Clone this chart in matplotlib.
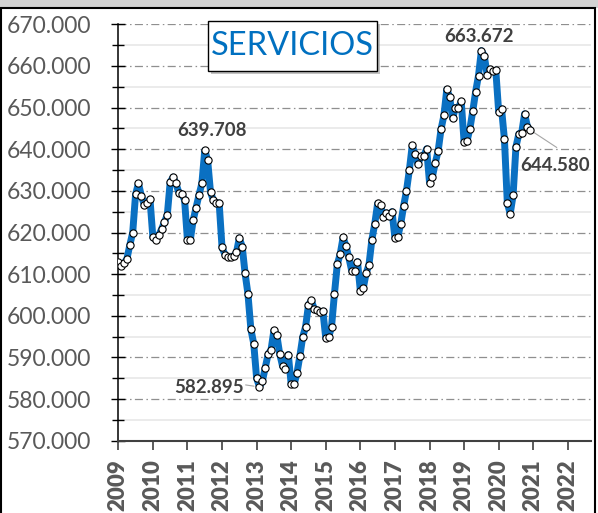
import matplotlib.pyplot as plt
from matplotlib.patches import Rectangle
import numpy as np

plt.rcParams['font.family'] = ['Lato', 'DejaVu Sans']
plt.rcParams['lines.scale_dashes'] = False

# afiliados en servicios (miles), mensual desde enero 2009
start_year = 2009
servicios = [
    612.8, 612.0, 612.6, 613.7, 617.0, 620.0, 629.2, 631.8, 628.8, 626.6, 627.2, 628.0,
    618.8, 618.3, 619.3, 620.8, 622.5, 624.2, 632.1, 633.3, 631.8, 629.6, 629.3, 627.8,
    618.1, 618.3, 623.0, 626.0, 629.0, 631.8, 639.708, 637.4, 629.7, 627.7, 627.0, 627.1,
    616.4, 614.7, 614.2, 614.1, 614.3, 615.2, 618.7, 616.6, 610.2, 605.2, 596.8, 593.3,
    585.0, 582.895, 584.3, 587.5, 590.8, 591.8, 596.5, 595.4, 590.9, 587.9, 587.3, 590.7,
    583.5, 583.5, 586.2, 590.3, 594.9, 597.4, 602.6, 603.7, 601.6, 601.4, 600.9, 601.1,
    594.6, 594.8, 597.4, 605.2, 612.4, 614.8, 618.8, 616.8, 614.0, 610.8, 610.7, 613.0,
    606.0, 606.6, 610.2, 612.3, 618.3, 622.1, 627.0, 626.5, 623.8, 624.7, 623.9, 625.0,
    618.6, 619.0, 622.0, 626.3, 630.0, 635.0, 640.9, 638.8, 636.4, 638.3, 638.4, 640.1,
    632.0, 633.4, 636.7, 639.6, 644.8, 648.1, 654.4, 652.5, 647.4, 650.0, 649.9, 651.5,
    641.8, 641.9, 644.9, 649.1, 653.8, 657.7, 663.672, 662.5, 657.8, 659.2, 658.7, 659.0,
    649.0, 649.7, 642.4, 627.1, 624.5, 628.9, 640.6, 643.7, 644.0, 648.5, 645.4, 644.580,
]
years = list(range(2009, 2023))
year_labels = [str(y) for y in years]
y_ticks = list(range(570, 671, 10))
y_labels = [f"{v:.3f}" for v in y_ticks]
title = "SERVICIOS"
label_points = [30, 49, 126, 143]

W, H = 598, 513
blue = '#0a70c2'
gray_txt = '#595959'

x = start_year + np.arange(len(servicios)) / 12.0

fig = plt.figure(figsize=(W / 100, H / 100), dpi=100)
fig.patch.set_facecolor('white')

# chart frame like the spreadsheet chart area
fig.add_artist(Rectangle((0, 1 - 8 / H), 1, 8 / H, transform=fig.transFigure,
                         facecolor='#d2d2d2', edgecolor='none'))
fig.add_artist(Rectangle((1 / W, -0.05), 594 / W, 1 - 8 / H + 0.05, transform=fig.transFigure,
                         fill=False, edgecolor='black', lw=1.5))

ax = fig.add_axes([118.3 / W, 1 - 440.7 / H, (591 - 118.3) / W, (440.7 - 24.3) / H])
ax.set_facecolor('none')

ax.plot(x, servicios, color=blue, lw=5, solid_joinstyle='round', solid_capstyle='round', zorder=3)
ax.plot(x, servicios, ls='none', marker='o', ms=5.2, mfc='white', mec='black', mew=0.8, zorder=4)

ax.set_xlim(2009, 2022.67)
ax.set_ylim(570, 670)

ax.set_yticks(y_ticks)
ax.set_yticklabels(y_labels)
ax.set_yticks(np.arange(575, 670, 10), minor=True)
ax.set_xticks(years)
ax.set_xticklabels(year_labels, rotation=90, fontweight='heavy')

ax.tick_params(axis='y', which='major', direction='inout', length=10, width=1.0, color='black',
               labelsize=16.5, labelcolor=gray_txt, pad=14.5)
ax.tick_params(axis='y', which='minor', direction='inout', length=8.5, width=1.0, color='black')
ax.tick_params(axis='x', which='major', direction='out', length=6.5, width=1.2, color='#404040',
               labelsize=16, labelcolor=gray_txt, pad=7)

ax.grid(axis='y', which='major', color='#8f8f8f', lw=0.9, dashes=(5.8, 2.5, 1.1, 2.4), zorder=0)
ax.grid(axis='y', which='minor', color='#e8e8e8', lw=1.2, zorder=0)

for s in ['top', 'right']:
    ax.spines[s].set_visible(False)
ax.spines['left'].set_color('black')
ax.spines['left'].set_linewidth(1.1)
ax.spines['bottom'].set_color('#404040')
ax.spines['bottom'].set_linewidth(1.5)

# data labels
lab_kw = dict(fontsize=13.5, fontweight='bold', color='#404040', textcoords='offset points', zorder=5)
offsets = {30: (5, 14, 'center'), 49: (-11.5, 0, 'right'), 126: (-2, 10.5, 'center'), 143: (-7, -25.5, 'left')}
for i in label_points:
    dx, dy, ha = offsets[i]
    ax.annotate(f"{servicios[i]:.3f}", (x[i], servicios[i]), xytext=(dx, dy),
                ha=ha, va='center', **lab_kw)

# leader lines
ax.annotate('', (x[49], servicios[49]), xytext=(-10, 1.5), textcoords='offset points',
            arrowprops=dict(arrowstyle='-', color='#a6a6a6', lw=0.8, shrinkA=0, shrinkB=4))
ax.annotate('', (x[143], servicios[143]), xytext=(19, -12.5), textcoords='offset points',
            arrowprops=dict(arrowstyle='-', color='#a6a6a6', lw=0.8, shrinkA=0, shrinkB=3))

# title box with shadow
bx, by, bw, bh = 208 / W, 1 - 70.7 / H, 169 / W, 50 / H
fig.add_artist(Rectangle((bx + 3 / W, by - 3 / H), bw, bh, transform=fig.transFigure,
                         facecolor='#9a9a9a', edgecolor='none', alpha=0.6))
fig.add_artist(Rectangle((bx, by), bw, bh, transform=fig.transFigure,
                         facecolor='white', edgecolor='black', lw=1.0))
fig.text(bx + bw / 2, by + bh / 2, title, ha='center', va='center', fontsize=23.5, color='#0070c0')

fig.savefig('out.png', dpi=100)
